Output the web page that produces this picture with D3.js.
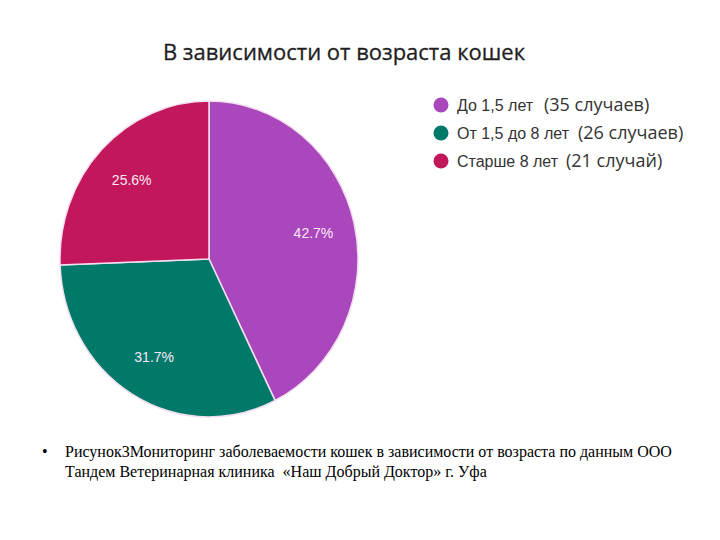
<!DOCTYPE html>
<html>
<head>
<meta charset="utf-8">
<script src="https://cdn.jsdelivr.net/npm/d3@7"></script>
<style>
  body { margin: 0; background: #fff; }
</style>
</head>
<body>
<div id="chart"></div>
<script>
// Data
const categories = ['До 1,5 лет', 'От 1,5 до 8 лет', 'Старше 8 лет'];
const cases = [35, 26, 21];
const caseLabels = ['(35 случаев)', '(26 случаев)', '(21 случай)'];
const colors = ['#ab47bc', '#00796b', '#c2185b'];
const captionLines = [
    'Рисунок3Мониторинг заболеваемости кошек в зависимости от возраста по данным ООО',
    'Тандем Ветеринарная клиника  «Наш Добрый Доктор» г. Уфа'
];

const width = 720, height = 540;

const svg = d3.select('#chart')
    .append('svg')
    .attr('width', width)
    .attr('height', height);

// Title
svg.append('text')
    .attr('x', 344)
    .attr('y', 60)
    .attr('text-anchor', 'middle')
    .style('font-family', 'Open Sans, sans-serif')
    .style('font-size', '22px')
    .attr('fill', '#1e1e1e')
    .attr('stroke', '#1e1e1e')
    .attr('stroke-width', 0.3)
    .text('В зависимости от возраста кошек');

// Pie (source image is slightly stretched vertically)
const radius = 149;
const g = svg.append('g')
    .attr('transform', 'translate(209,259) scale(1,1.06)');

const total = d3.sum(cases);
const pie = d3.pie().sort(null)(cases);
const arc = d3.arc().innerRadius(0).outerRadius(radius);

g.selectAll('path')
    .data(pie)
    .enter().append('path')
    .attr('d', arc)
    .attr('fill', (d, i) => colors[i])
    .attr('stroke', '#f3dff0')
    .attr('stroke-width', 1.5);

const labelArc = d3.arc().innerRadius(radius * 0.72).outerRadius(radius * 0.72);
g.selectAll('.pct')
    .data(pie)
    .enter().append('text')
    .attr('class', 'pct')
    .attr('transform', d => {
        const [x, y] = labelArc.centroid(d);
        return `translate(${x},${y}) scale(1,${1 / 1.06})`;
    })
    .attr('text-anchor', 'middle')
    .attr('dy', '0.35em')
    .style('font-family', 'Liberation Sans, Arial, sans-serif')
    .style('font-size', '14px')
    .attr('fill', '#fbeaf6')
    .text(d => (d.data / total * 100).toFixed(1) + '%');

// Legend
const legend = svg.append('g')
    .attr('transform', 'translate(441,105)');

const items = legend.selectAll('.legend-item')
    .data(categories)
    .enter().append('g')
    .attr('class', 'legend-item')
    .attr('transform', (d, i) => `translate(0,${i * 28})`);

items.append('circle')
    .attr('r', 7.5)
    .attr('fill', (d, i) => colors[i]);

items.append('text')
    .attr('x', 16)
    .attr('y', 6)
    .style('font-family', 'Liberation Sans, Arial, sans-serif')
    .style('font-size', '16px')
    .attr('fill', '#333')
    .text(d => d);

const caseX = [544, 578, 566];
items.append('text')
    .attr('x', (d, i) => caseX[i] - 441)
    .attr('y', 6)
    .style('font-family', 'Open Sans, sans-serif')
    .style('font-size', '18px')
    .attr('fill', '#333')
    .text((d, i) => caseLabels[i]);

// Caption
svg.append('text')
    .attr('x', 42)
    .attr('y', 457)
    .style('font-family', 'Liberation Serif, serif')
    .style('font-size', '16px')
    .attr('fill', '#000')
    .text('•');

svg.selectAll('.caption')
    .data(captionLines)
    .enter().append('text')
    .attr('class', 'caption')
    .attr('x', 65)
    .attr('y', (d, i) => 457 + i * 20)
    .style('font-family', 'Liberation Serif, serif')
    .style('font-size', '16px')
    .style('white-space', 'pre')
    .attr('fill', '#000')
    .text(d => d);
</script>
</body>
</html>
